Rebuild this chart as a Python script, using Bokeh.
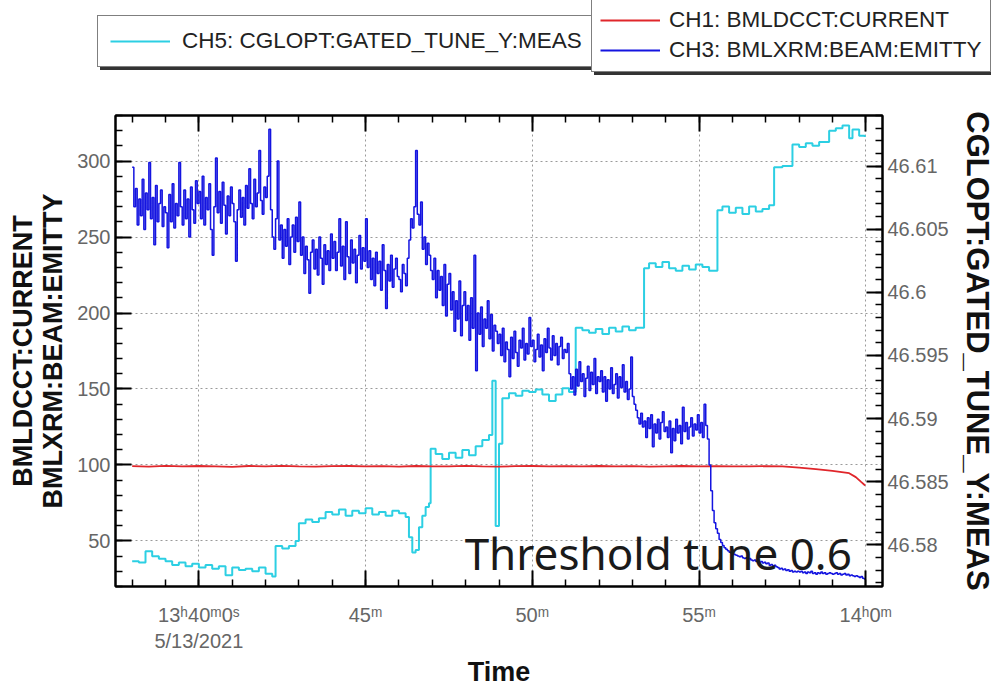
import numpy as np
from bokeh.plotting import figure
from bokeh.layouts import column
from bokeh.models import (Range1d, LinearAxis, FixedTicker, Legend, LegendItem, Label,
                          ColumnDataSource)
from bokeh.embed import file_html
from bokeh.resources import INLINE

# ---------------- data (time in minutes after 13:00, 5/13/2021) ----------------
# CH3: BMLXRM:BEAM:EMITTY (left axis), one reading every 0.05 min from 38.0
blue_start = 38.0
blue_step = 0.05
blue_vals = [
    296, 270, 282, 258, 275, 264, 288, 255, 279, 268, 299, 262, 276, 245, 284, 260, 272, 281, 257, 270,
    266, 243, 278, 260, 285, 256, 272, 264, 299, 270, 258, 281, 262, 275, 250, 283, 268, 259, 287, 272,
    280, 262, 290, 258, 276, 268, 285, 255, 238, 270, 302, 266, 280, 259, 286, 271, 252, 277, 264, 283,
    272, 260, 234, 268, 281, 263, 276, 258, 284, 269, 295, 272, 262, 288, 270, 279, 307, 274, 265, 283,
    276, 290, 321, 268, 250, 242, 262, 300, 248, 258, 236, 255, 244, 262, 232, 250, 258, 240, 263, 247,
    273, 238, 250, 226, 244, 235, 213, 240, 248, 229, 242, 225, 250, 236, 219, 245, 232, 241, 228, 252,
    236, 247, 228, 240, 262, 231, 244, 222, 260, 237, 226, 248, 233, 242, 220, 238, 251, 229, 243, 234,
    262, 230, 241, 222, 236, 218, 240, 226, 234, 215, 245, 228, 203, 232, 221, 238, 217, 229, 236, 224,
    222, 214, 232, 226, 218, 236, 248, 262, 256, 270, 307, 265, 258, 273, 242, 250, 232, 246, 238, 228,
    222, 236, 210, 228, 215, 224, 205, 232, 198, 219, 226, 202, 214, 188, 208, 196, 221, 185, 205, 214,
    195, 205, 182, 210, 190, 238, 162, 200, 186, 204, 178, 196, 190, 208, 183, 199, 175, 192, 188, 180,
    186, 172, 190, 168, 181, 176, 158, 184, 170, 188, 174, 165, 182, 177, 190, 169, 180, 173, 197, 178,
    182, 168, 176, 186, 171, 179, 162, 183, 174, 190, 177, 169, 185, 172, 180, 166, 178, 184, 170, 176,
    174, 180, 160, 150, 158, 146, 163, 152, 168, 155, 160, 145, 157, 165, 149, 161, 153, 170, 147, 158,
    155, 162, 148, 158, 142, 156, 150, 164, 147, 153, 160, 144, 158, 151, 166, 148, 155, 143, 150, 171,
    145, 140, 136, 131, 127, 134, 125, 129, 118, 131, 124, 133, 112, 127, 121, 130, 117, 128, 135, 122,
    125, 118, 129, 108, 124, 116, 130, 121, 126, 114, 138, 122, 128, 117, 125, 131, 119, 127, 123, 133,
    121, 128, 118, 140, 126, 117, 100, 83, 70, 62, 58, 55, 51, 49, 47, 45.5, 44.5, 43.5, 42.5, 42,
    41.5, 41, 40.5, 40, 39.5, 40, 39, 38.5, 39, 38, 38.5, 37.5, 37, 37.5, 36.5, 37, 36, 36.5, 35.5, 36,
    35, 35.5, 34, 34.5, 33.5, 34, 33, 32.5, 31.5, 32, 31, 31.5, 30.5, 31, 30, 30.5, 29.5, 30, 29.5, 30,
    29.5, 30, 29, 29.5, 28.5, 29.5, 29, 30, 28.5, 29, 28, 29, 28.5, 29.5, 28.5, 29, 28, 28.5, 29, 28.5,
    28, 28.5, 29, 28, 28.5, 27.5, 28, 28.5, 27.5, 28, 27, 27.5, 27, 26.5, 27, 26.5, 26, 26.5, 25.5, 25,
    25,
]
blue_t = [round(blue_start + i * blue_step, 3) for i in range(len(blue_vals))]

# CH1: BMLDCCT:CURRENT (left axis)
red_t = [38.0, 38.5, 39.0, 39.5, 40.0, 40.5, 41.0, 41.5, 42.0, 42.5,
         43.0, 43.5, 44.0, 44.5, 45.0, 45.5, 46.0, 46.5, 47.0, 47.5,
         48.0, 48.5, 49.0, 49.5, 50.0, 50.5, 51.0, 51.5, 52.0, 52.5,
         53.0, 53.5, 54.0, 54.5, 55.0, 55.5, 56.0, 56.5, 57.0, 57.5,
         58.0, 58.5, 59.0, 59.5, 59.7, 59.85, 59.98]
red_vals = [99.2, 98.9, 99.4, 99.0, 99.3, 99.1, 98.8, 99.3, 99.0, 99.4,
            99.1, 98.9, 99.2, 99.3, 99.0, 99.2, 98.9, 99.3, 99.1, 99.0,
            99.4, 99.1, 98.9, 99.2, 99.3, 99.0, 99.2, 99.1, 99.3, 99.0,
            99.2, 98.9, 99.1, 99.3, 99.0, 99.2, 99.1, 99.0, 99.2, 99.0,
            98.2, 97.2, 96.1, 94.6, 92.0, 89.0, 86.5]

# CH5: CGLOPT:GATED_TUNE_Y:MEAS (right axis)
cyan_t = [38.0, 38.2, 38.4, 38.6, 38.8, 39.0, 39.2, 39.4, 39.6, 39.8,
          40.0, 40.2, 40.4, 40.6, 40.8, 41.0, 41.2, 41.4, 41.6, 41.8,
          42.0, 42.2, 42.3, 42.5, 42.7, 42.9, 43.0, 43.2, 43.4, 43.6,
          43.8, 44.0, 44.2, 44.4, 44.6, 44.8, 45.0, 45.2, 45.4, 45.6,
          45.8, 46.0, 46.2, 46.3, 46.4, 46.5, 46.6, 46.7, 46.8, 46.9,
          46.95, 47.1, 47.3, 47.5, 47.7, 47.9, 48.1, 48.3, 48.5, 48.7,
          48.8, 48.9, 49.0, 49.1, 49.3, 49.5, 49.7, 49.9, 50.1, 50.3,
          50.5, 50.7, 50.9, 51.1, 51.3, 51.5, 51.7, 51.9, 52.1, 52.3,
          52.5, 52.7, 52.9, 53.1, 53.35, 53.5, 53.7, 53.9, 54.1, 54.3,
          54.5, 54.7, 54.9, 55.1, 55.3, 55.55, 55.7, 55.9, 56.1, 56.3,
          56.5, 56.7, 56.9, 57.1, 57.25, 57.5, 57.8, 58.0, 58.2, 58.4,
          58.6, 58.9, 59.1, 59.3, 59.5, 59.6, 59.8, 59.97]
cyan_vals = [46.5787, 46.5786, 46.5795, 46.5791, 46.5789, 46.5787, 46.5784, 46.5786, 46.5783, 46.5785,
             46.5782, 46.5784, 46.5781, 46.5783, 46.5776, 46.5782, 46.5780, 46.5781, 46.5779, 46.5782,
             46.5777, 46.5775, 46.5799, 46.5797, 46.5799, 46.5803, 46.5817, 46.5820, 46.5818, 46.5821,
             46.5826, 46.5824, 46.5828, 46.5823, 46.5827, 46.5825, 46.5829, 46.5824, 46.5826, 46.5823,
             46.5827, 46.5825, 46.5822, 46.5806, 46.5794, 46.5796, 46.5814, 46.5823, 46.5830, 46.5833,
             46.5876, 46.5872, 46.5868, 46.5873, 46.5869, 46.5875, 46.5871, 46.5878, 46.5883, 46.5887,
             46.5930, 46.5815, 46.5880, 46.5916, 46.5920, 46.5918, 46.5922, 46.5921, 46.5923, 46.5919,
             46.5914, 46.5919, 46.5924, 46.5921, 46.5972, 46.5970, 46.5968, 46.5971, 46.5967, 46.5972,
             46.5969, 46.5973, 46.5970, 46.5972, 46.6019, 46.6023, 46.6020, 46.6024, 46.6019, 46.6017,
             46.6021, 46.6018, 46.6022, 46.6020, 46.6017, 46.6065, 46.6068, 46.6063, 46.6067, 46.6062,
             46.6068, 46.6064, 46.6066, 46.6069, 46.6099, 46.6100, 46.6117, 46.6115, 46.6118, 46.6116,
             46.6119, 46.6128, 46.6130, 46.6132, 46.6122, 46.6129, 46.6124, 46.6123]

series_names = ["CH5: CGLOPT:GATED_TUNE_Y:MEAS", "CH1: BMLDCCT:CURRENT", "CH3: BMLXRM:BEAM:EMITTY"]
series_colors = ["#2ccfe3", "#e0262b", "#1414e0"]

# ticks
x_major = [40, 45, 50, 55, 60]
x_minor = list(range(38, 61))
x_labels = {40: "13\u02b040\u1d500\u02e2\n5/13/2021", 45: "45\u1d50", 50: "50\u1d50",
            55: "55\u1d50", 60: "14\u02b00\u1d50"}
left_major = [50, 100, 150, 200, 250, 300]
left_minor = list(range(20, 331, 10))
right_major = [46.58, 46.585, 46.59, 46.595, 46.6, 46.605, 46.61]
right_minor = [round(46.577 + 0.001 * i, 3) for i in range(38)]
right_labels = {46.58: "46.58", 46.585: "46.585", 46.59: "46.59", 46.595: "46.595",
                46.6: "46.6", 46.605: "46.605", 46.61: "46.61"}

FONT = "Liberation Sans"

src_cyan = ColumnDataSource(dict(t=cyan_t, v=cyan_vals))
src_red = ColumnDataSource(dict(t=red_t, v=red_vals))
src_blue = ColumnDataSource(dict(t=blue_t, v=blue_vals))

# ---------------- main plot ----------------
p = figure(width=997, height=609, output_backend="svg", toolbar_location=None,
           x_range=Range1d(37.5, 60.5), y_range=Range1d(20, 330),
           min_border_left=115, min_border_right=103, min_border_top=35,
           min_border_bottom=91)
p.frame_align = False
p.extra_y_ranges = {"tune": Range1d(46.5767, 46.614)}
p.background_fill_color = "white"
p.border_fill_color = "white"
p.outline_line_color = "black"
p.outline_line_width = 2

r_cyan = p.step("t", "v", source=src_cyan, mode="after", y_range_name="tune",
                line_color=series_colors[0], line_width=2)
r_red = p.line("t", "v", source=src_red, line_color=series_colors[1], line_width=1.8)
r_blue = p.step("t", "v", source=src_blue, mode="after", line_color=series_colors[2],
                line_width=1.5)

bottom_axis = p.below[0]
left_axis = p.left[0]
right_axis = LinearAxis(y_range_name="tune")
p.add_layout(right_axis, "right")
top_axis = LinearAxis()
p.add_layout(top_axis, "above")

def style(ax):
    ax.axis_line_color = "black"
    ax.axis_line_width = 2
    ax.major_tick_line_color = "black"
    ax.major_tick_line_width = 2
    ax.minor_tick_line_color = "black"
    ax.minor_tick_line_width = 1.5
    ax.major_tick_in = 16
    ax.major_tick_out = 0
    ax.minor_tick_in = 7
    ax.minor_tick_out = 0
    ax.major_label_text_font = FONT
    ax.major_label_text_font_size = "20px"
    ax.major_label_text_color = "#666666"
    ax.major_label_standoff = 5
    ax.axis_label_text_font = FONT
    ax.axis_label_text_font_style = "bold"
    ax.axis_label_text_color = "#111111"

for ax in (bottom_axis, left_axis, right_axis, top_axis):
    style(ax)

bottom_axis.ticker = FixedTicker(ticks=x_major, minor_ticks=x_minor)
bottom_axis.major_label_overrides = x_labels
bottom_axis.major_label_standoff = 17
bottom_axis.axis_label = "Time"
bottom_axis.axis_label_text_font_size = "27px"
bottom_axis.axis_label_standoff = 2

top_axis.ticker = FixedTicker(ticks=x_major, minor_ticks=x_minor)
top_axis.major_label_text_font_size = "1px"
top_axis.major_label_text_alpha = 0

left_axis.ticker = FixedTicker(ticks=left_major, minor_ticks=left_minor)
left_axis.axis_label = "BMLDCCT:CURRENT\nBMLXRM:BEAM:EMITTY"
left_axis.axis_label_text_font_size = "27px"
left_axis.axis_label_text_line_height = 1.0
left_axis.axis_label_standoff = 6

right_axis.ticker = FixedTicker(ticks=right_major, minor_ticks=right_minor)
right_axis.major_label_overrides = right_labels
right_axis.axis_label = "CGLOPT:GATED_TUNE_Y:MEAS"
right_axis.axis_label_text_font_size = "31px"
right_axis.axis_label_standoff = 8

p.xgrid.ticker = FixedTicker(ticks=x_major)
p.ygrid.ticker = FixedTicker(ticks=left_major)
for g in (p.xgrid[0], p.ygrid[0]):
    g.grid_line_color = "#9a9a9a"
    g.grid_line_dash = "2 3"
    g.grid_line_width = 1

note = Label(x=47.97, y=42, text="Threshold tune 0.6", text_font="Noto Sans",
             text_font_size="44px", text_color="#1a1a1a", text_baseline="alphabetic")
p.add_layout(note)

# ---------------- legend strip above the plot ----------------
lp = figure(width=997, height=80, output_backend="svg", toolbar_location=None,
            x_range=Range1d(0, 1), y_range=Range1d(0, 1),
            x_axis_location=None, y_axis_location=None,
            min_border_left=0, min_border_right=0, min_border_top=0, min_border_bottom=0)
lp.frame_align = False
lp.outline_line_color = None
lp.grid.visible = False
lp.background_fill_color = "white"
lp.border_fill_color = "white"
# same series, drawn outside this strip's view: only their legend keys show here
k_cyan = lp.line("t", "v", source=src_cyan, line_color=series_colors[0], line_width=2)
k_red = lp.line("t", "v", source=src_red, line_color=series_colors[1], line_width=2)
k_blue = lp.line("t", "v", source=src_blue, line_color=series_colors[2], line_width=2)

def make_legend(items, loc, padding, label_width, standoff, shadow=False):
    lg = Legend(items=items, location=loc)
    lg.border_line_color = "#333333" if shadow else "black"
    lg.border_line_width = 1.5
    lg.background_fill_color = "#333333" if shadow else "white"
    lg.background_fill_alpha = 1
    lg.label_text_font = FONT
    lg.label_text_font_size = "22.5px"
    lg.label_text_color = "#222222"
    lg.glyph_width = 60
    lg.glyph_height = 22
    lg.label_standoff = standoff
    lg.label_width = label_width
    lg.margin = 0
    lg.spacing = 4
    lg.padding = padding
    return lg

# drop shadows (boxes without text) behind the two legend boxes
sh1 = [LegendItem(label=" ", renderers=[k_cyan])]
sh2 = [LegendItem(label=" ", renderers=[k_red]), LegendItem(label=" ", renderers=[k_blue])]
lp.add_layout(make_legend(sh1, (100, 10), 12, 400, 12, shadow=True))
lp.add_layout(make_legend(sh2, (594, 5), 8, 310, 9, shadow=True))

items1 = [LegendItem(label=series_names[0], renderers=[k_cyan])]
items2 = [LegendItem(label=series_names[1], renderers=[k_red]),
          LegendItem(label=series_names[2], renderers=[k_blue])]
lp.add_layout(make_legend(items1, (97, 13), 12, 400, 12))
lp.add_layout(make_legend(items2, (591, 8), 8, 310, 9))

layout = column(lp, p, spacing=0)
open("out.html", "w").write(file_html(layout, INLINE))
